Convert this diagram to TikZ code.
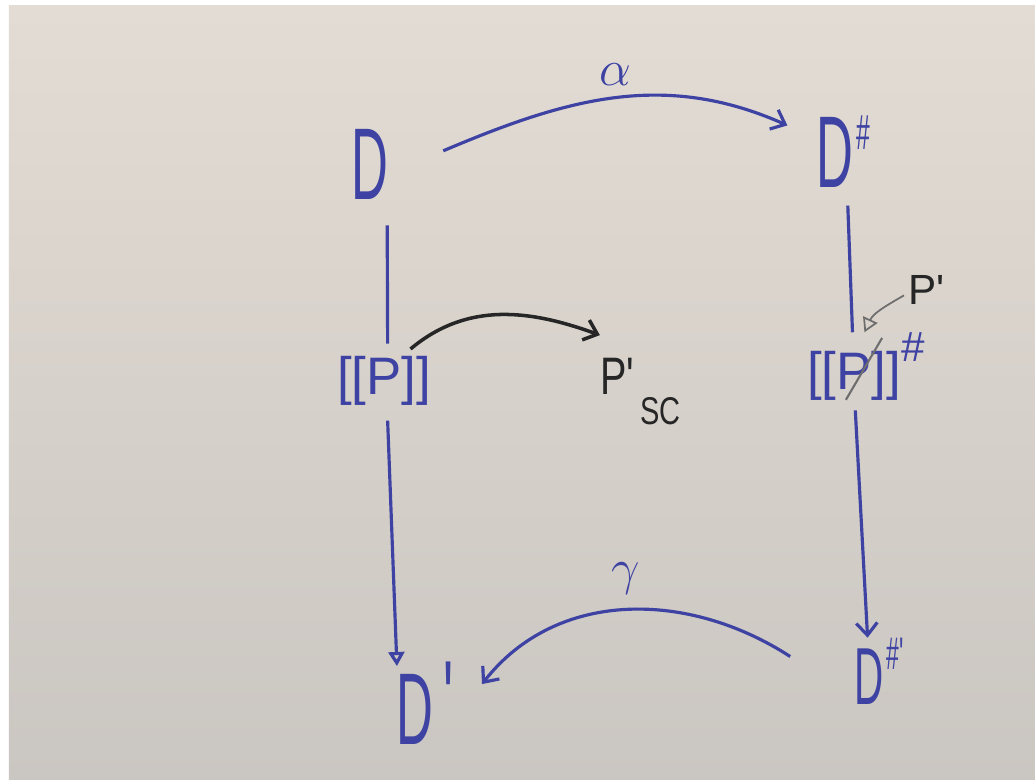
\documentclass[tikz,border=0pt]{standalone}
\usepackage{fontspec}
\usetikzlibrary{arrows.meta}

\newfontfamily\handfont{Liberation Sans}
\newfontfamily\handnarrow[FakeStretch=0.5]{Liberation Sans}
\newfontfamily\handslim[FakeStretch=0.75]{Liberation Sans}

\definecolor{penblue}{HTML}{3D42A3}
\definecolor{penblack}{HTML}{262626}
\definecolor{pencilgray}{HTML}{6E6E6E}
\definecolor{papertop}{HTML}{E3DCD4}
\definecolor{paperbottom}{HTML}{CAC6C1}

% raised mark: raise, size, text
\newcommand\hsup[3]{\raisebox{#1}{\fontsize{#2}{#2}\selectfont #3}}

\begin{document}
\begin{tikzpicture}[
  x=.01cm,
  y=.01cm,
  obj/.style={text=penblue,inner sep=1pt,anchor=base west,
    font=\handnarrow\fontsize{29}{30}\selectfont},
  semobj/.style={text=penblue,inner sep=1pt,anchor=base west,
    font=\handfont\fontsize{15}{16}\selectfont},
  term/.style={text=penblack,inner sep=1pt,anchor=base west,
    font=\handslim\fontsize{15}{16}\selectfont},
  maplabel/.style={text=penblue,inner sep=1pt,font=\fontsize{14}{15}\selectfont},
  map/.style={draw=penblue,line width=.9pt},
  barb/.style={-{Straight Barb[length=3.5pt,width=6pt]}},
  openhead/.style={-{Triangle[open,length=4pt,width=4.5pt]}}
]
% paper
\fill[white] (0,0) rectangle (1035,780);
\shade[top color=papertop,bottom color=paperbottom] (9,0) rectangle (1035,774);

% objects
\node[obj] (dom) at (347,580) {D};
\node[obj] (absdom) at (812,592) {D\hspace{1pt}\hsup{11pt}{14}{\#}};
\node[semobj] (sem) at (333,385) {[[P]]};
\node[semobj] (abssem) at (803,390) {[[P]]\hsup{8pt}{12}{\#}};
\node[term] (psc) at (596,385)
  {P\textquotesingle\hspace{1pt}\raisebox{-8.5pt}{\fontsize{11}{11}\selectfont SC}};
\node[term,font=\handfont\fontsize{12}{13}\selectfont] (pprime) at (904,475)
  {P\textquotesingle};
\node[obj] (dom2) at (392,35) {D\hspace{3pt}\hsup{3pt}{30}{\textquotesingle}};
\node[obj,font=\handnarrow\fontsize{23}{24}\selectfont] (absdom2) at (850,75)
  {D\hspace{1pt}\hsup{10pt}{13}{\#\textquotesingle}};

% alpha and gamma
\draw[map,barb] ([xshift=14.5pt,yshift=4pt]dom.east)
  to[out=23,in=156] node[maplabel,above=2pt] (alpha) {$\alpha$}
  ([xshift=-7pt,yshift=7.5pt]absdom.west);
\draw[map,barb] ([xshift=-17pt,yshift=4.3pt]absdom2.west)
  to[out=147,in=52] node[maplabel,above=3pt] (gamma) {$\gamma$}
  ([xshift=4pt,yshift=5.5pt]dom2.east);

% left column
\draw[map] ([xshift=5pt,yshift=-6pt]dom.south) -- ([xshift=1pt,yshift=2.5pt]sem.north);
\draw[map,openhead] ([xshift=1pt,yshift=-3pt]sem.south) -- ([xshift=1.4pt,yshift=-2.4pt]dom2.north west);

% right column
\draw[map] ([xshift=1.3pt,yshift=-3.8pt]absdom.south) -- ([xshift=-3.8pt,yshift=-1pt]abssem.north);
\draw[map,barb] ([xshift=-3pt,yshift=-1.5pt]abssem.south) -- ([xshift=5pt,yshift=-1pt]absdom2.north west);

% black arrow to P'_SC
\draw[draw=penblack,line width=1pt,barb] ([xshift=7.5pt,yshift=1pt]sem.north)
  to[out=40,in=160] ([xshift=1.1pt,yshift=5.5pt]psc.north west);

% pencil note on the abstract semantics
\draw[draw=pencilgray,line width=.5pt,openhead] ([yshift=-1.4pt]pprime.west)
  to[out=210,in=65] ([xshift=-0.4pt,yshift=-1pt]abssem.north);
\draw[draw=pencilgray,line width=.6pt] ([shift={(12.2pt,-2.8pt)}]abssem.base west)
  -- ([shift={(22.5pt,14.8pt)}]abssem.base west);
\end{tikzpicture}
\end{document}
